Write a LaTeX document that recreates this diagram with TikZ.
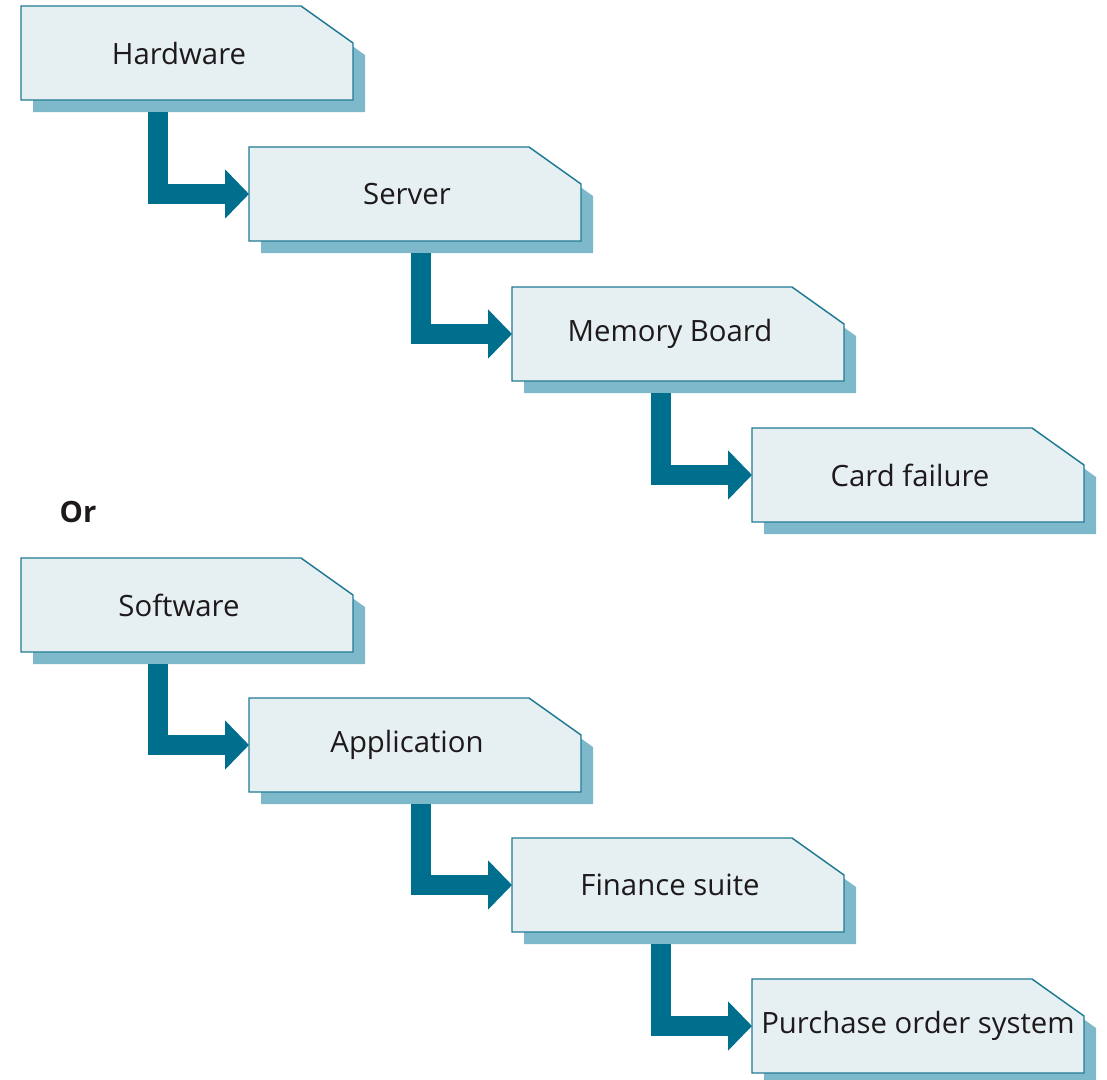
\documentclass[tikz,border=0pt]{standalone}
\usepackage{fontspec}
\setmainfont{Open Sans}
\usetikzlibrary{positioning,arrows.meta,calc,backgrounds}
\definecolor{ink}{HTML}{1E1A1B}
\definecolor{edge}{HTML}{1F7A94}
\definecolor{paper}{HTML}{E6EFF2}
\definecolor{shade}{HTML}{7DB8CB}
\definecolor{teal}{HTML}{006F8E}
\tikzset{
  widecard/.style={minimum width=249pt,minimum height=70.5pt,inner sep=0pt,outer sep=0pt,text=ink,
    font=\fontsize{22}{26}\selectfont},
  card/.style={widecard,execute at end node={\hspace*{12pt}}},
  cardline/.style={draw=edge,fill=paper,line width=1.1pt},
  cardshade/.style={fill=shade},
  bigflow/.style={draw=teal,line width=15pt,-{Triangle[length=18pt,width=36pt]}}}

\begin{document}
\begin{tikzpicture}[x=0.75pt,y=-0.75pt]
  \useasboundingbox (0,0) rectangle (1107,1079);
  % hardware chain
  \node[card] (hw) at (187,53) {Hardware};
  \node[card] (sv) at (415,194) {Server};
  \node[card] (mb) at (678,334) {Memory Board};
  \node[card] (cf) at (918,475) {Card failure};
  \node[anchor=west,text=ink,font=\fontsize{22}{26}\selectfont\bfseries] (or) at (55,512) {Or};
  % software chain
  \node[card] (sw) at (187,605) {Software};
  \node[card] (ap) at (415,745) {Application};
  \node[card] (fs) at (678,885) {Finance suite};
  \node[widecard] (po) at (918,1026) {Purchase order system};
  \begin{scope}[on background layer]
    \foreach \n in {hw,sv,mb,cf,sw,ap,fs,po} {
      \path[cardshade,transform canvas={xshift=9pt,yshift=-9pt}] (\n.south west) -- (\n.north west)
        -- ([xshift=-39pt]\n.north east) -- ([yshift=-27.75pt]\n.north east) -- (\n.south east) -- cycle;
      \path[cardline] (\n.south west) -- (\n.north west)
        -- ([xshift=-39pt]\n.north east) -- ([yshift=-27.75pt]\n.north east) -- (\n.south east) -- cycle;
    }
  \end{scope}
  \draw[bigflow] ($(hw.south -| sv.west)+(-91,12)$) |- (sv.west);
  \draw[bigflow] ($(sv.south -| mb.west)+(-91,12)$) |- (mb.west);
  \draw[bigflow] ($(mb.south -| cf.west)+(-91,12)$) |- (cf.west);
  \draw[bigflow] ($(sw.south -| ap.west)+(-91,12)$) |- (ap.west);
  \draw[bigflow] ($(ap.south -| fs.west)+(-91,12)$) |- (fs.west);
  \draw[bigflow] ($(fs.south -| po.west)+(-91,12)$) |- (po.west);
\end{tikzpicture}
\end{document}
